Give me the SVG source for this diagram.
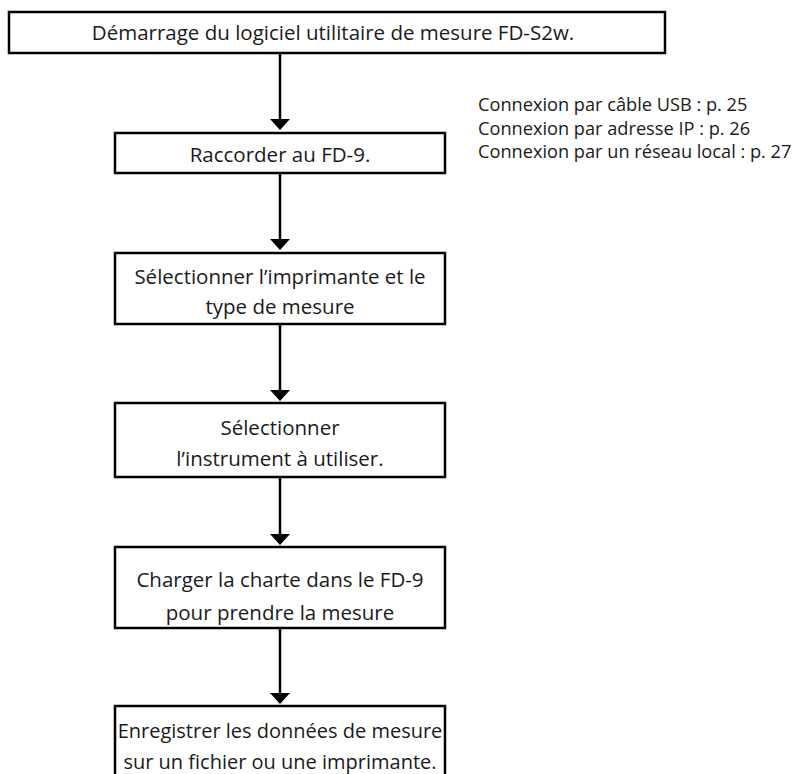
<svg xmlns="http://www.w3.org/2000/svg" width="794" height="774" viewBox="0 0 794 774">
<defs>
<style>
.box{fill:#fff;stroke:#000;stroke-width:2.5}
.t{font-family:"Open Sans","Noto Sans",sans-serif;font-size:20.5px;fill:#1a1a1a;text-anchor:middle}
.s{font-size:20px}
.n{font-family:"Open Sans","Noto Sans",sans-serif;font-size:18.2px;fill:#1a1a1a}
.c{stroke:#000;stroke-width:2.5;fill:none}
.h{fill:#000}
</style>
</defs>
<rect width="794" height="774" fill="#fff"/>
<g id="connectors">
<line class="c" x1="280" y1="53" x2="280" y2="120"/><path class="h" d="M270,119 L290,119 L280,130 z"/>
<line class="c" x1="280" y1="173" x2="280" y2="240"/><path class="h" d="M270,239 L290,239 L280,250 z"/>
<line class="c" x1="280" y1="324" x2="280" y2="391"/><path class="h" d="M270,390 L290,390 L280,401 z"/>
<line class="c" x1="280" y1="477" x2="280" y2="535"/><path class="h" d="M270,534 L290,534 L280,545 z"/>
<line class="c" x1="280" y1="628" x2="280" y2="694"/><path class="h" d="M270,693 L290,693 L280,704 z"/>
</g>
<g id="n1"><rect class="box" x="9" y="12" width="656" height="41"/><text class="t" x="333" y="40">Démarrage du logiciel utilitaire de mesure FD-S2w.</text></g>
<g id="n2"><rect class="box" x="115" y="133" width="330" height="40"/><text class="t" x="280" y="162">Raccorder au FD-9.</text></g>
<g id="n3"><rect class="box" x="115" y="253" width="330" height="71"/><text class="t" x="280" y="284">Sélectionner l’imprimante et le</text><text class="t" x="280" y="314">type de mesure</text></g>
<g id="n4"><rect class="box" x="115" y="403" width="330" height="74"/><text class="t" x="280" y="435">Sélectionner</text><text class="t" x="280" y="466">l’instrument à utiliser.</text></g>
<g id="n5"><rect class="box" x="115" y="547" width="330" height="81"/><text class="t" x="280" y="587">Charger la charte dans le FD-9</text><text class="t" x="280" y="620">pour prendre la mesure</text></g>
<g id="n6"><rect class="box" x="115" y="706" width="330" height="80"/><text class="t s" x="280" y="738">Enregistrer les données de mesure</text><text class="t s" x="280" y="769">sur un fichier ou une imprimante.</text></g>
<g id="notes">
<text class="n" x="478" y="111">Connexion par câble USB : p. 25</text>
<text class="n" x="478" y="135">Connexion par adresse IP : p. 26</text>
<text class="n" x="478" y="158">Connexion par un réseau local : p. 27</text>
</g>
</svg>
